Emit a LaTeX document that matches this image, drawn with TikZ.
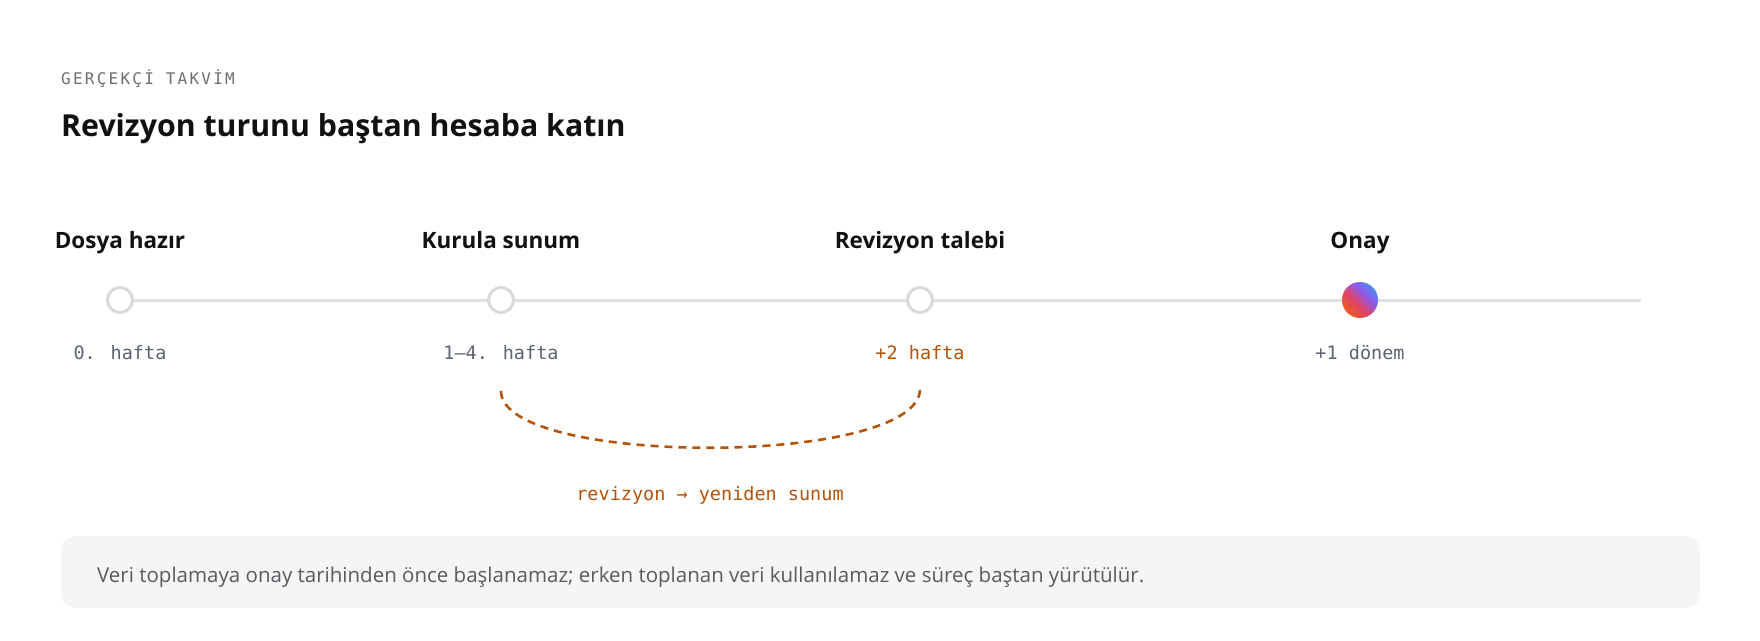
\documentclass[tikz,border=0pt]{standalone}
\usepackage{fontspec}
\setmainfont{Open Sans}
\newfontfamily\kodfont{DejaVu Sans Mono}
\usepackage{tikz}
\usetikzlibrary{positioning}
\usepackage{xcolor}

\definecolor{baslik}{HTML}{111111}
\definecolor{ustyazi}{HTML}{6E6E6E}
\definecolor{haftagri}{HTML}{5B6270}
\definecolor{turuncu}{HTML}{B45309}
\definecolor{hatgri}{HTML}{E2E2E2}
\definecolor{halkagri}{HTML}{D9D9DC}
\definecolor{kutugri}{HTML}{F5F5F4}
\definecolor{notgri}{HTML}{575B62}
\definecolor{onayturuncu}{HTML}{F4581F}
\definecolor{onaykirmizi}{HTML}{DC4466}
\definecolor{onaymor}{HTML}{9259E8}
\definecolor{onaymavi}{HTML}{4A8CF2}

\pgfdeclarehorizontalshading{onaygecis}{100bp}{color(0bp)=(onayturuncu); color(25bp)=(onayturuncu); color(44bp)=(onaykirmizi); color(60bp)=(onaymor); color(75bp)=(onaymavi); color(100bp)=(onaymavi)}

\begin{document}
\begin{tikzpicture}[x=1pt,y=-1pt,
  adim/.style={font=\fontsize{22.5}{26}\selectfont\bfseries, text=baslik, anchor=base, inner sep=0pt},
  hafta/.style={font=\kodfont\fontsize{18.5}{22}\selectfont, text=haftagri, anchor=base, inner sep=0pt},
  halka/.style={circle, draw=halkagri, line width=3pt, fill=white, minimum size=25pt, inner sep=0pt},
  zamanhat/.style={hatgri, line width=3pt},
  revyay/.style={turuncu, line width=2.6pt, dash pattern=on 8pt off 6pt}]

\useasboundingbox (0,0) rectangle (1760,640);

% baslik
{
\node[anchor=base west, inner sep=0pt, text=ustyazi, font=\kodfont\fontsize{16}{20}\selectfont\addfontfeatures{LetterSpace=14}] (ust) at (61,84) {GERÇEKÇİ TAKVİM};
\node[anchor=base west, inner sep=0pt, text=baslik, font=\fontsize{30.3}{36}\selectfont\bfseries] (baslik) at (61,136) {Revizyon turunu baştan hesaba katın};
}

% adimlar
{
\node[adim] (a0) at (120,248) {Dosya hazır};
\node[adim] (a1) at (501,248) {Kurula sunum};
\node[adim] (a2) at (920,248) {Revizyon talebi};
\node[adim] (a3) at (1360,248) {Onay};
}

% zaman cizgisi
{
\node[halka] (d0) at (120,300) {};
\node[halka] (d1) at (501,300) {};
\node[halka] (d2) at (920,300) {};
\node[circle, minimum size=36pt, inner sep=0pt, shading=onaygecis, shading angle=45] (d3) at (1360,300) {};
\coordinate (hatsonu) at (1641,300);

\draw[zamanhat] (d0) -- (d1);
\draw[zamanhat] (d1) -- (d2);
\draw[zamanhat] (d2) -- (d3);
\draw[zamanhat] (d3) -- (hatsonu);
}

% haftalar
{
\node[hafta] (h0) at (120,359) {0. hafta};
\node[hafta] (h1) at (501,359) {1–4. hafta};
\node[hafta, text=turuncu] (h2) at (920,359) {+2 hafta};
\node[hafta] (h3) at (1360,359) {+1 dönem};
}

% revizyon donusu
{
\coordinate (yaysol) at (501,391);
\coordinate (yaysag) at (920,389);
\draw[revyay] (yaysol) .. controls +(0,76) and +(0,78) .. (yaysag);

\node[hafta, text=turuncu] (donus) at (710,500) {revizyon → yeniden sunum};
}

% not kutusu
{
\fill[kutugri, rounded corners=15pt] (61,536) rectangle (1700,608);
\node[anchor=base west, inner sep=0pt, text=notgri, font=\fontsize{20.5}{24}\selectfont] (not) at (97,582) {Veri toplamaya onay tarihinden önce başlanamaz; erken toplanan veri kullanılamaz ve süreç baştan yürütülür.};
}

\end{tikzpicture}
\end{document}
